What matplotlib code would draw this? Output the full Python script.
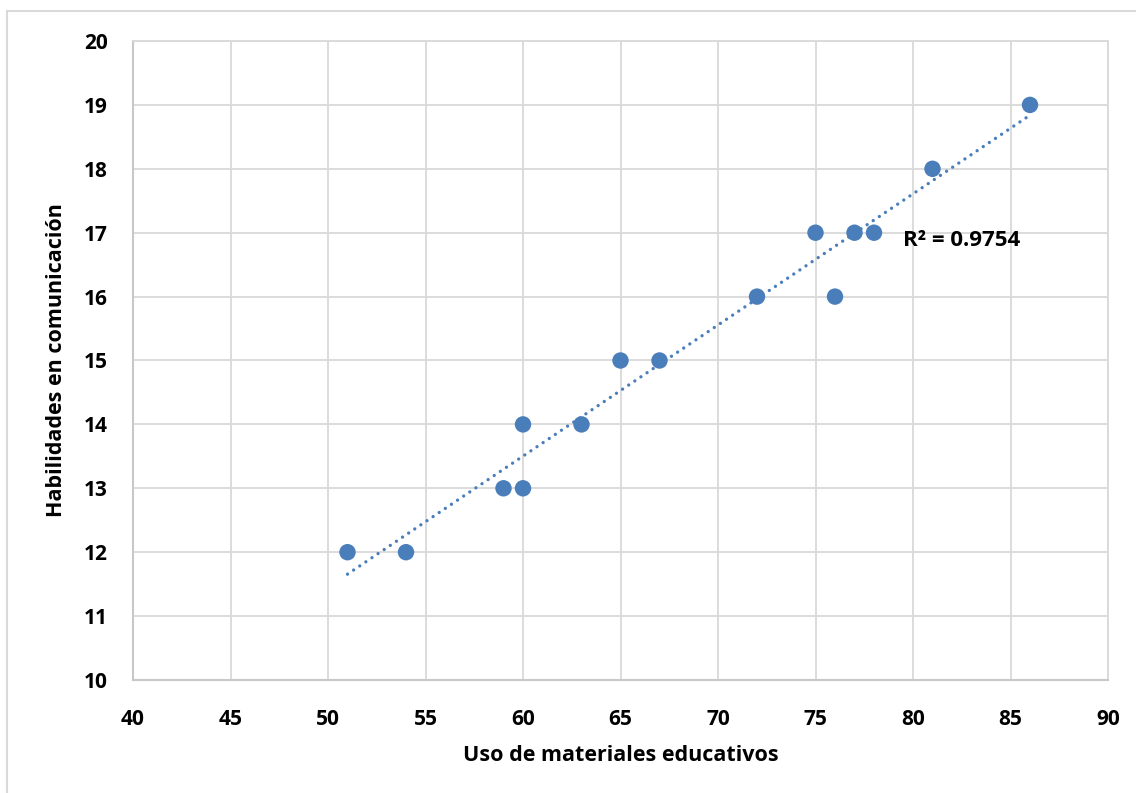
import numpy as np
import matplotlib
matplotlib.use('Agg')
import matplotlib.pyplot as plt
from matplotlib.patches import Rectangle

# ── Datos ─────────────────────────────────────────────────────────────────────
uso_materiales = [51, 54, 59, 60, 60, 63, 65, 67, 72, 75, 76, 77, 78, 81, 86]
habilidades = [12, 12, 13, 13, 14, 14, 15, 15, 16, 17, 16, 17, 17, 18, 19]
r2_text = 'R² = 0.9754'
x_ticks = [40, 45, 50, 55, 60, 65, 70, 75, 80, 85, 90]
y_ticks = [10, 11, 12, 13, 14, 15, 16, 17, 18, 19, 20]

BLUE = '#4A7EBB'
GRID = '#D9D9D9'
FONT = ['Open Sans', 'DejaVu Sans']

plt.rcParams['font.family'] = FONT
plt.rcParams['font.weight'] = 'bold'

fig = plt.figure(figsize=(11.36, 7.93), dpi=100)
ax = fig.add_axes([133 / 1136, 1 - 680 / 793, (1108 - 133) / 1136, (680 - 41) / 793])

# Borde del área del gráfico
fig.patches.append(Rectangle((7 / 1136, -0.01), 1.1, 1 - 11 / 793 + 0.01,
                             transform=fig.transFigure, fill=False,
                             edgecolor=GRID, linewidth=1.5))

# Línea de tendencia (ajuste lineal), punteada
coef = np.polyfit(uso_materiales, habilidades, 1)
xs = np.array([min(uso_materiales), max(uso_materiales)])
ax.plot(xs, np.polyval(coef, xs), linestyle=(0, (0.01, 2.2)), color=BLUE,
        linewidth=2.4, dash_capstyle='round', zorder=2)

ax.scatter(uso_materiales, habilidades, s=140, color=BLUE, edgecolors='none',
           zorder=3)

ax.text(79.5, 16.88, r2_text, fontsize=16, fontweight='bold', color='black',
        ha='left', va='center')

ax.set_xlim(40, 90)
ax.set_ylim(10, 20)
ax.set_xticks(x_ticks)
ax.set_yticks(y_ticks)
ax.tick_params(length=0, labelsize=15)
ax.tick_params(axis='x', pad=21)
ax.tick_params(axis='y', pad=18)
ax.grid(True, color=GRID, linewidth=1.3)
ax.set_axisbelow(True)
for side in ['top', 'right']:
    ax.spines[side].set_color(GRID)
    ax.spines[side].set_linewidth(1.3)
for side in ['left', 'bottom']:
    ax.spines[side].set_color('#C8C8C8')
    ax.spines[side].set_linewidth(1.5)

ax.set_xlabel('Uso de materiales educativos', fontsize=15.5, fontweight='bold',
              labelpad=11)
ax.set_ylabel('Habilidades en comunicación', fontsize=15.5, fontweight='bold',
              labelpad=12)

fig.savefig('out.png', dpi=100, facecolor='white')
